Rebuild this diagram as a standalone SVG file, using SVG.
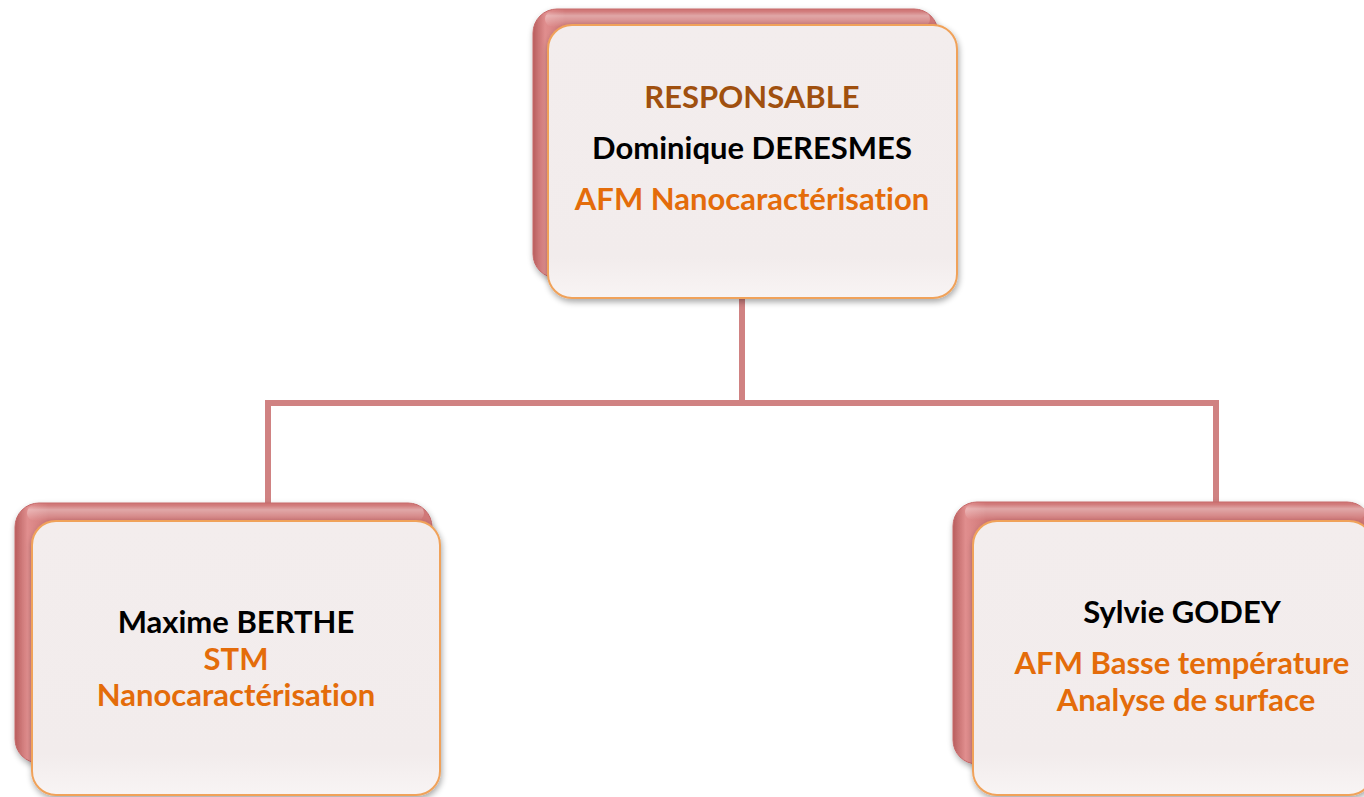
<svg xmlns="http://www.w3.org/2000/svg" width="1364" height="797" viewBox="0 0 1364 797">
<defs>
<linearGradient id="backH" x1="0" y1="0" x2="1" y2="0">
<stop offset="0" stop-color="#b85e5e"/>
<stop offset="0.03" stop-color="#e08e8e"/>
<stop offset="0.08" stop-color="#d07878"/>
<stop offset="1" stop-color="#d07878"/>
</linearGradient>
<linearGradient id="topH" x1="0" y1="0" x2="0" y2="1">
<stop offset="0" stop-color="#ffffff" stop-opacity="0"/>
<stop offset="0.3" stop-color="#ffffff" stop-opacity="0.35"/>
<stop offset="1" stop-color="#ffffff" stop-opacity="0"/>
</linearGradient>
<linearGradient id="frontG" x1="0" y1="0" x2="0" y2="1">
<stop offset="0" stop-color="#f3eded"/>
<stop offset="0.85" stop-color="#f2ecec"/>
<stop offset="1" stop-color="#f8f4f4"/>
</linearGradient>
<filter id="sh" x="-10%" y="-10%" width="120%" height="125%">
<feGaussianBlur in="SourceAlpha" stdDeviation="3"/>
<feOffset dx="1" dy="3"/>
<feComponentTransfer><feFuncA type="linear" slope="0.35"/></feComponentTransfer>
<feMerge><feMergeNode/><feMergeNode in="SourceGraphic"/></feMerge>
</filter>
</defs>
<style>
.back{fill:url(#backH);stroke:#c56868;stroke-width:1}
.hl{fill:url(#topH)}
.front{fill:url(#frontG);stroke:#f0a25a;stroke-width:2}
.conn{fill:none;stroke:#d08282;stroke-width:6}
text{font-family:Lato,"Open Sans","Liberation Sans",sans-serif;font-weight:bold;text-anchor:middle;font-size:31px;font-variant-ligatures:none}
.k{fill:#000}
.o{fill:#e46c0a}
.b{fill:#a0500f}
</style>
<rect width="1364" height="797" fill="#ffffff"/>
<g id="connectors">
<path class="conn" d="M742 298 V403 M268 403 H1216 M268 400 V503 M1216 400 V503"/>
</g>
<g id="node-responsable">
<rect class="back" x="533" y="9" width="405" height="269" rx="24" filter="url(#sh)"/>
<rect class="hl" x="545" y="11" width="385" height="16" rx="8"/>
<rect class="front" x="548" y="25" width="409" height="273" rx="24" filter="url(#sh)"/>
<text x="752" y="108" class="b">RESPONSABLE</text>
<text x="752" y="159" class="k">Dominique DERESMES</text>
<text x="752" y="210" class="o">AFM Nanocaractérisation</text>
</g>
<g id="node-berthe">
<rect class="back" x="15" y="503" width="417" height="260" rx="24" filter="url(#sh)"/>
<rect class="hl" x="27" y="505" width="397" height="16" rx="8"/>
<rect class="front" x="32" y="521" width="408" height="274" rx="24" filter="url(#sh)"/>
<text x="236" y="633" class="k">Maxime BERTHE</text>
<text x="236" y="670" class="o">STM</text>
<text x="236" y="706" class="o">Nanocaractérisation</text>
</g>
<g id="node-godey">
<rect class="back" x="953" y="502" width="418" height="262" rx="24" filter="url(#sh)"/>
<rect class="hl" x="965" y="504" width="400" height="16" rx="8"/>
<rect class="front" x="973" y="521" width="400" height="274" rx="24" filter="url(#sh)"/>
<text x="1182" y="623" class="k">Sylvie GODEY</text>
<text x="1182" y="674" class="o">AFM Basse température</text>
<text x="1186" y="711" class="o">Analyse de surface</text>
</g>
</svg>
